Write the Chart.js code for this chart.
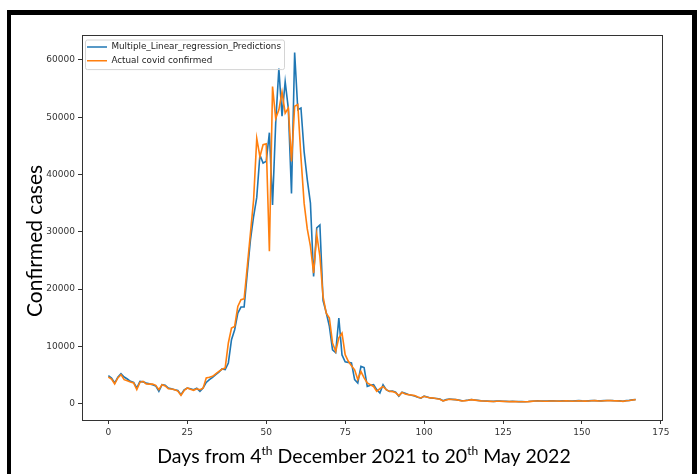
<!DOCTYPE html>
<html>
<head>
<meta charset="utf-8">
<script src="https://cdn.jsdelivr.net/npm/chart.js@4.4.1/dist/chart.umd.min.js"></script>
<style>
  html, body { margin: 0; padding: 0; background: #fff; }
  canvas { display: block; }
</style>
</head>
<body>
<canvas id="covidChart" width="697" height="474"></canvas>
<script>
// daily confirmed cases, 4 Dec 2021 .. 20 May 2022 (day 0 .. 167)
const actualCases = [
  4650, 4300, 3430, 4500, 5060, 4190, 4000, 3780, 3600, 2440,
  3720, 3900, 3430, 3400, 3430, 3200, 2440, 3315, 3100, 2600,
  2560, 2440, 2200, 1450, 2300, 2730, 2500, 2330, 2600, 2440,
  2700, 4480, 4600, 4760, 5200, 5640, 6000, 6230, 10590, 13200,
  13490, 16980, 18140, 18300, 23950, 29770, 35580, 46300, 43100, 45200,
  45350, 26600, 55350, 49800, 51300, 54400, 50700, 51600, 42300, 51900,
  52200, 43000, 35000, 30500, 27500, 22800, 29500, 25700, 18700, 15800,
  14950, 10600, 9100, 11500, 12300, 8550, 7400, 6600, 5900, 4200,
  5600, 4500, 3600, 3300, 3000, 2150, 2600, 3000, 2450, 2150,
  2100, 1900, 1400, 1970, 1700, 1570, 1500, 1400, 1150, 990,
  1280, 1100, 1000, 990, 850, 760, 470, 650, 760, 720,
  700, 600, 470, 520, 600, 700, 620, 550, 480, 450,
  420, 400, 380, 420, 430, 400, 380, 350, 370, 360,
  330, 340, 320, 350, 400, 450, 470, 450, 420, 430,
  470, 460, 450, 430, 470, 480, 450, 430, 470, 500,
  460, 440, 470, 500, 520, 480, 460, 500, 520, 540,
  500, 480, 470, 400, 500, 550, 650, 700
];

const predictedCases = [
  4880, 4480, 3600, 4600, 5230, 4650, 4300, 3890, 3700, 2730,
  3890, 3800, 3600, 3450, 3315, 3100, 2150, 3315, 3200, 2730,
  2600, 2440, 2300, 1570, 2400, 2730, 2600, 2440, 2700, 2150,
  2740, 3700, 4190, 4600, 5060, 5500, 6050, 5930, 7100, 11160,
  12900, 15800, 16860, 16860, 22800, 28600, 32670, 36000, 43400, 42000,
  42300, 47300, 34700, 49000, 58500, 50200, 56200, 51500, 36700, 61300,
  51300, 51600, 44000, 39100, 35000, 22200, 30700, 31200, 18000, 15900,
  13500, 9400, 8900, 14950, 8500, 7300, 7200, 7100, 4200, 3600,
  6500, 6300, 3000, 3200, 3300, 2450, 1870, 3300, 2450, 2150,
  2200, 2000, 1300, 2000, 1800, 1600, 1450, 1350, 1100, 950,
  1300, 1150, 1000, 950, 900, 800, 500, 700, 800, 750,
  700, 620, 500, 550, 620, 720, 640, 570, 500, 470,
  440, 420, 400, 440, 450, 420, 400, 370, 390, 380,
  350, 360, 340, 370, 420, 470, 490, 470, 440, 450,
  490, 480, 470, 450, 490, 500, 470, 450, 490, 520,
  480, 460, 490, 520, 540, 500, 480, 520, 540, 560,
  520, 500, 490, 420, 520, 570, 660, 720
];

const days = actualCases.map((v, i) => i);
const xTicks = [0, 25, 50, 75, 100, 125, 150, 175];
const yTicks = [0, 10000, 20000, 30000, 40000, 50000, 60000];

const toPoints = vals => vals.map((v, i) => ({ x: days[i], y: v }));

const LEGEND_PAD = 5;

// frame, axes box, legend frame and axis titles
const framePlugin = {
  id: "frame",
  beforeDraw(chart) {
    const ctx = chart.ctx;
    ctx.save();
    ctx.fillStyle = "#fff";
    ctx.fillRect(0, 0, chart.width, chart.height);
    ctx.fillStyle = "#000";
    ctx.fillRect(7, 10, 690, 5);
    ctx.fillRect(7, 10, 4, 464);
    ctx.fillRect(692, 10, 5, 464);
    ctx.restore();

    // a vertical legend inside the chart area gets its top reset to 0, put it back
    const lg = chart.legend;
    const a = chart.chartArea;
    lg.top = a.top + 2.5;
    lg.bottom = a.bottom;
  },
  afterDraw(chart) {
    const ctx = chart.ctx;
    const a = chart.chartArea;
    ctx.save();
    ctx.strokeStyle = "#333";
    ctx.lineWidth = 1;
    ctx.strokeRect(Math.round(a.left) + 0.5, Math.round(a.top) + 0.5,
      Math.round(a.right - a.left), Math.round(a.bottom - a.top));

    const lg = chart.legend;
    const boxes = lg.legendHitBoxes;
    if (boxes && boxes.length) {
      const rowH = boxes[0].height;
      const l = Math.min(...boxes.map(b => b.left)) - 2;
      const r = Math.max(...boxes.map(b => b.left + b.width)) + 3;
      const t = lg.top + LEGEND_PAD - 3;
      const bt = lg.top + LEGEND_PAD + boxes.length * rowH + (boxes.length - 1) * LEGEND_PAD + 4;
      ctx.strokeStyle = "#d4d4d4";
      ctx.beginPath();
      ctx.roundRect(l + 0.5, t + 0.5, r - l, bt - t, 2);
      ctx.stroke();
    }

    // y axis title
    ctx.fillStyle = "#000";
    ctx.font = "21px Lato";
    ctx.textAlign = "center";
    ctx.textBaseline = "middle";
    ctx.save();
    ctx.translate(35, 241);
    ctx.rotate(-Math.PI / 2);
    ctx.fillText("Confirmed cases", 0, 0);
    ctx.restore();

    // x axis title with superscripts
    const parts = [
      ["Days from 4", false], ["th", true], [" December 2021 to 20", false],
      ["th", true], [" May 2022", false]
    ];
    const bigFont = "19.5px Lato";
    const smallFont = "12px Lato";
    ctx.textAlign = "left";
    ctx.textBaseline = "alphabetic";
    let total = 0;
    parts.forEach(p => {
      ctx.font = p[1] ? smallFont : bigFont;
      total += ctx.measureText(p[0]).width;
    });
    let x = 364 - total / 2;
    const y = 463;
    parts.forEach(p => {
      ctx.font = p[1] ? smallFont : bigFont;
      ctx.fillText(p[0], x, p[1] ? y - 8 : y);
      x += ctx.measureText(p[0]).width;
    });
    ctx.restore();
  }
};

new Chart(document.getElementById("covidChart"), {
  type: "line",
  data: {
    datasets: [
      {
        label: "Multiple_Linear_regression_Predictions",
        data: toPoints(predictedCases),
        borderColor: "#1f77b4",
        backgroundColor: "#1f77b4",
        borderWidth: 1.6,
        pointRadius: 0,
        order: 1
      },
      {
        label: "Actual covid confirmed",
        data: toPoints(actualCases),
        borderColor: "#ff7f0e",
        backgroundColor: "#ff7f0e",
        borderWidth: 1.6,
        pointRadius: 0,
        order: 0
      }
    ]
  },
  options: {
    responsive: false,
    animation: false,
    layout: { padding: { left: 0, top: 35, right: 35, bottom: 0 } },
    plugins: {
      tooltip: { enabled: false },
      legend: {
        position: "chartArea",
        align: "start",
        labels: {
          boxWidth: 20,
          boxHeight: 1.5,
          padding: LEGEND_PAD,
          color: "#222",
          font: { family: "DejaVu Sans", size: 8.8 },
          sort: (a, b) => a.datasetIndex - b.datasetIndex,
          generateLabels: chart =>
            Chart.defaults.plugins.legend.labels.generateLabels(chart)
              .map(item => Object.assign(item, { lineWidth: 0 }))
        }
      }
    },
    scales: {
      x: {
        type: "linear",
        min: -8.35,
        max: 175.35,
        afterFit: s => { s.height = 54; },
        afterBuildTicks: s => { s.ticks = xTicks.map(v => ({ value: v })); },
        border: { display: false },
        grid: { drawOnChartArea: false, drawTicks: true, tickLength: 4, color: "#333" },
        ticks: {
          padding: 3,
          maxRotation: 0,
          color: "#333",
          font: { family: "DejaVu Sans", size: 9 }
        }
      },
      y: {
        min: -2855,
        max: 64355,
        afterFit: s => { s.width = 82; },
        afterBuildTicks: s => { s.ticks = yTicks.map(v => ({ value: v })); },
        border: { display: false },
        grid: { drawOnChartArea: false, drawTicks: true, tickLength: 4, color: "#333" },
        ticks: {
          padding: 3,
          color: "#333",
          font: { family: "DejaVu Sans", size: 9 },
          callback: v => String(v)
        }
      }
    }
  },
  plugins: [framePlugin]
});
</script>
</body>
</html>
